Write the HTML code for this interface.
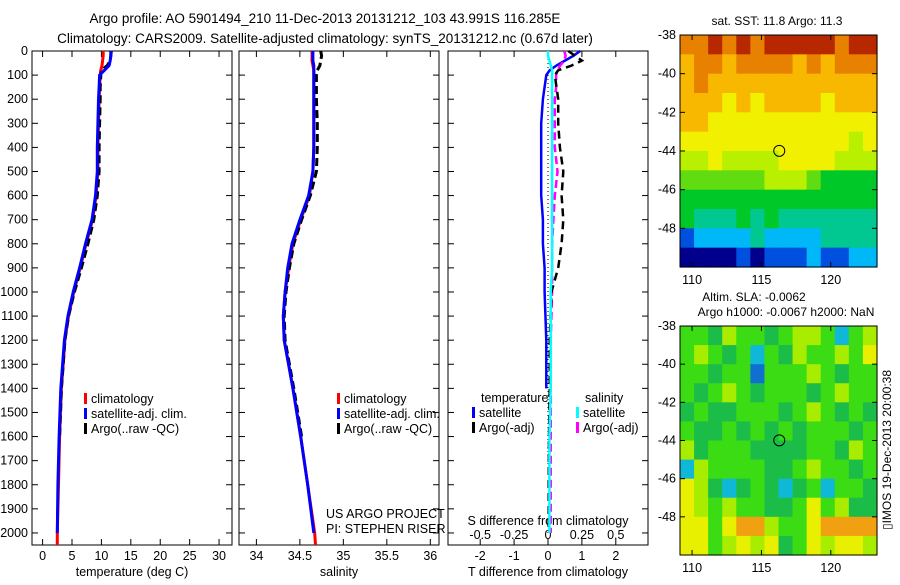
<!DOCTYPE html>
<html><head><meta charset="utf-8"><style>
body{margin:0;background:#fff;width:900px;height:580px;overflow:hidden}
svg{font-family:"Liberation Sans",sans-serif;font-size:12.5px}
</style></head><body>
<svg id="fig" width="900" height="580">
<text x="325" y="23" text-anchor="middle" font-size="13.5">Argo profile: AO 5901494_210 11-Dec-2013 20131212_103 43.991S 116.285E</text>
<text x="325" y="43" text-anchor="middle" font-size="13.5">Climatology: CARS2009. Satellite-adjusted climatology: synTS_20131212.nc (0.67d later)</text>
<text transform="translate(891,450) rotate(-90)" text-anchor="middle" font-size="12">▯IMOS 19-Dec-2013 20:00:38</text>
<g id="g"></g>
</svg>
<script>
// ---- profile data ----
const depthsT = [0,20,40,60,80,100,150,200,300,400,500,600,700,800,900,1000,1100,1200,1300,1400,1600,1800,2000,2050];
const tempClim = [10.3,10.3,10.2,10.1,9.9,9.8,9.7,9.6,9.5,9.4,9.4,9.1,8.5,7.4,6.4,5.3,4.4,3.8,3.5,3.2,2.9,2.7,2.5,2.5];
const tempSat  = [11.7,11.6,11.5,11.3,10.5,9.7,9.6,9.5,9.4,9.3,9.3,9.0,8.4,7.3,6.3,5.2,4.3,3.7,3.4,3.1,2.8,2.6,2.5,2.5];
const tempArgo = [11.6,11.6,11.5,11.0,10.0,9.9,9.8,9.8,9.7,9.6,9.6,9.3,8.7,7.7,6.6,5.4,4.4,3.8,3.5,3.2,2.9,2.7,2.5,2.5];
const salClim = [34.64,34.64,34.64,34.65,34.66,34.66,34.66,34.66,34.66,34.66,34.65,34.61,34.51,34.42,34.37,34.33,34.31,34.32,34.37,34.42,34.51,34.59,34.67,34.68];
const salSat  = [34.65,34.65,34.65,34.66,34.66,34.66,34.66,34.66,34.66,34.66,34.65,34.60,34.50,34.41,34.36,34.33,34.31,34.32,34.37,34.42,34.51,34.59,34.66,34.67];
const salArgo = [34.74,34.75,34.74,34.73,34.70,34.69,34.69,34.69,34.70,34.70,34.69,34.62,34.52,34.43,34.38,34.34,34.32,34.33,34.38,34.43,34.52,34.60,34.66,34.67];
const depthsD = [0,20,40,60,80,100,150,200,300,400,500,600,700,800,900,1000,1200,1400,1600,1800,2000];
const tDiffSat  = [0.95,0.75,0.5,0.25,0.05,-0.05,-0.1,-0.15,-0.2,-0.2,-0.2,-0.2,-0.15,-0.15,-0.1,-0.1,-0.05,-0.05,-0.02,0,0];
const tDiffArgo = [0.6,0.8,1.0,0.7,0.3,0.2,0.25,0.3,0.3,0.35,0.45,0.4,0.45,0.4,0.3,0.1,0.05,0.05,0.03,0.02,0.02];
const sDiffSat  = [0.0,0.0,0.01,0.02,0.03,0.03,0.03,0.03,0.03,0.03,0.03,0.03,0.03,0.03,0.03,0.02,0.02,0.02,0.01,0.01,0.01];
const sDiffArgo = [0.12,0.13,0.12,0.09,0.07,0.06,0.06,0.05,0.05,0.05,0.07,0.05,0.04,0.03,0.03,0.03,0.02,0.02,0.02,0.02,0.02];
const depthTicks = [0,100,200,300,400,500,600,700,800,900,1000,1100,1200,1300,1400,1500,1600,1700,1800,1900,2000];
const tempTicks = [0,5,10,15,20,25,30];
const salTicks = [34,34.5,35,35.5,36];
const tDiffTicks = [-2,-1,0,1,2];
const sDiffTicks = [-0.5,-0.25,0,0.25,0.5];
// ---- map data (colour class per cell, rows north->south, 1 deg lat) ----
const sstRows = ["99A9A9AAAAA9AA","89989999898999","89888888888888","88878788887888","88777777777777","77777777777767","66766667777666","55555566654444","44444444444444","43334343333333","12222322223333","00001011121122"];
const slaRows = ["ggdyggdgyygcgy","gygdgcgdyggygY","ggdggbgggygdgg","gdgygdgggdgygg","dgddgggdgygdgd","gddgdgdgdgggdg","ydgggddddggdyg","cyggggddgyggdg","Yydcdgdcdgcggd","YygyggddgYgydd","YYgYooyggYoooo","YYgyYyYdgYyYYy"];
const latTicks = [-38,-40,-42,-44,-46,-48];
const lonTicks = [110,115,120];
const argoLon = 116.285, argoLat = -43.991;

const NS='http://www.w3.org/2000/svg';
const G=document.getElementById('g');
function mk(tag,attrs,parent){const e=document.createElementNS(NS,tag);for(const k in attrs)e.setAttribute(k,attrs[k]);(parent||G).appendChild(e);return e;}
function txt(x,y,s,anchor,parent,size){const t=mk('text',{x:x,y:y,'text-anchor':anchor||'middle'},parent);if(size)t.setAttribute('font-size',size);t.textContent=s;return t;}

const top0=51, bot=545;
const yD=d=>top0+d*(bot-top0)/2050;

function panel(name,x0,x1,vmin,vmax,ticks,fmt,xlabel,leftLabels){
  const p=mk('g',{});
  
  
  const xs=v=>x0+(v-vmin)*(x1-x0)/(vmax-vmin);
  const r=mk('rect',{x:x0,y:top0,width:x1-x0,height:bot-top0,fill:'#fff',stroke:'#000','stroke-width':1},p);
  
  
  depthTicks.forEach(d=>{
    mk('line',{x1:x0,x2:x0+6,y1:yD(d),y2:yD(d),stroke:'#000'},p);
    mk('line',{x1:x1,x2:x1-6,y1:yD(d),y2:yD(d),stroke:'#000'},p);
    if(leftLabels){const t=txt(x0-4,yD(d)+4,String(d),'end',p);
      
      }
  });
  ticks.forEach(v=>{
    mk('line',{x1:xs(v),x2:xs(v),y1:bot,y2:bot-6,stroke:'#000'},p);
    mk('line',{x1:xs(v),x2:xs(v),y1:top0,y2:top0+6,stroke:'#000'},p);
    const t=txt(xs(v),560,fmt(v),'middle',p);
    
    
  });
  const xl=txt((x0+x1)/2,576,xlabel,'middle',p);
  
  
  return {p,xs};
}
function line(p,xs,vals,depths,color,w,dash,name){
  const pts=vals.map((v,i)=>xs(v).toFixed(1)+','+yD(depths[i]).toFixed(1)).join(' ');
  const l=mk('polyline',{points:pts,fill:'none',stroke:color,'stroke-width':w},p);
  if(dash)l.setAttribute('stroke-dasharray',dash);
  
  
}
function legend(p,x,y,items){
  items.forEach((it,i)=>{
    mk('rect',{x:x,y:y+i*15-10,width:3,height:11,fill:it[0]},p);
    const t=txt(x+7,y+i*15,it[1],'start',p);
    
    
  });
}
// Panel 1 temperature
let P=panel('temperature-panel',32,232,-1.8,32.2,tempTicks,v=>String(v),'temperature (deg C)',true);
line(P.p,P.xs,tempClim,depthsT,'#f00',3,null,'temp-climatology-line');
line(P.p,P.xs,tempArgo.slice(0,21),depthsT.slice(0,21),'#000',3,'8,4','temp-argo-line');
line(P.p,P.xs,tempSat.slice(0,23),depthsT.slice(0,23),'#00f',3,null,'temp-satellite-line');
legend(P.p,84,403,[['#f00','climatology'],['#00f','satellite-adj. clim.'],['#000','Argo(..raw -QC)']]);
// Panel 2 salinity
P=panel('salinity-panel',239,439,33.8,36.1,salTicks,v=>String(v),'salinity',false);
line(P.p,P.xs,salClim,depthsT,'#f00',3,null,'sal-climatology-line');
line(P.p,P.xs,salArgo.slice(0,21),depthsT.slice(0,21),'#000',3,'8,4','sal-argo-line');
line(P.p,P.xs,salSat.slice(0,23),depthsT.slice(0,23),'#00f',3,null,'sal-satellite-line');
legend(P.p,337,403,[['#f00','climatology'],['#00f','satellite-adj. clim.'],['#000','Argo(..raw -QC)']]);
let t=txt(326,518,'US ARGO PROJECT','start',P.p);


t=txt(326,533,'PI: STEPHEN RISER','start',P.p);


// Panel 3 differences
P=panel('difference-panel',448,648,-2.95,2.95,tDiffTicks,v=>String(v),'T difference from climatology',false);
const xs3=P.xs;
sDiffTicks.forEach(v=>{const tt=txt(xs3(v*4),539,String(v),'middle',P.p);
  
  });
t=txt(548,525,'S difference from climatology','middle',P.p);


mk('line',{x1:xs3(0),x2:xs3(0),y1:top0+4,y2:yD(1750),stroke:'#000','stroke-dasharray':'1,3'},P.p);
const dS=depthsD.slice(0,18);
line(P.p,xs3,tDiffSat.slice(0,18),dS,'#00f',2.5,null,'t-diff-satellite-line');
line(P.p,xs3,sDiffArgo.map(v=>v*4),depthsD,'#f0f',2.5,'8,4','s-diff-argo-line');
line(P.p,xs3,tDiffArgo,depthsD,'#000',2.5,'8,5','t-diff-argo-line');
line(P.p,xs3,sDiffSat.map(v=>v*4),depthsD,'#0ff',2.5,null,'s-diff-satellite-line');
t=txt(481,402,'temperature','start',P.p);
t=txt(585,402,'salinity','start',P.p);
legend(P.p,472,417,[['#00f','satellite'],['#000','Argo(-adj)']]);
legend(P.p,576,417,[['#0ff','satellite'],['#f0f','Argo(-adj)']]);

// ---- maps ----
const sstPal={'0':'#00008c','1':'#0050e0','2':'#00b8f8','3':'#00c890','4':'#00c828','5':'#60dc10','6':'#b8f000','7':'#f0f000','8':'#f8b800','9':'#e88000','A':'#b82800'};
const slaPal={g:'#3cdc14',d:'#1cbc48',y:'#a8ec00',Y:'#e8f000',o:'#f0a010',c:'#10b8d8',b:'#1070d0'};
function map(name,y0,y1,rows,pal,titles){
  const x0=680,x1=877,lonMin=109.13,lonMax=123.33;
  const m=mk('g',{});
  
  
  const xl=v=>x0+(v-lonMin)*(x1-x0)/(lonMax-lonMin);
  const yl=v=>y0+(-38-v)*(y1-y0)/12;
  const nc=rows[0].length, cw=(x1-x0)/nc, ch=(y1-y0)/rows.length;
  rows.forEach((row,r)=>{[...row].forEach((c,k)=>{
    const cell=mk('rect',{x:(x0+k*cw).toFixed(2),y:(y0+r*ch).toFixed(2),width:(cw+0.6).toFixed(2),height:(ch+0.6).toFixed(2),fill:pal[c]},m);
    
    
  });});
  mk('rect',{x:x0,y:y0,width:x1-x0,height:y1-y0,fill:'none',stroke:'#000'},m);
  latTicks.forEach(v=>{
    mk('line',{x1:x0,x2:x0+5,y1:yl(v),y2:yl(v),stroke:'#000'},m);
    mk('line',{x1:x1,x2:x1-5,y1:yl(v),y2:yl(v),stroke:'#000'},m);
    const tt=txt(x0-4,yl(v)+4,String(v),'end',m);
    
    
  });
  lonTicks.forEach(v=>{
    mk('line',{x1:xl(v),x2:xl(v),y1:y1,y2:y1-5,stroke:'#000'},m);
    mk('line',{x1:xl(v),x2:xl(v),y1:y0,y2:y0+5,stroke:'#000'},m);
    const tt=txt(xl(v),y1+17,String(v),'middle',m);
    
    
  });
  const c=mk('circle',{cx:xl(argoLon),cy:yl(argoLat),r:5.5,fill:'none',stroke:'#000'},m);
  
  
  titles.forEach((s,i)=>{const tt=txt(s[1],s[2],s[0],'middle',m,12);
    
    });
}
map('sst-map',35,267,sstRows,sstPal,[['sat. SST: 11.8  Argo: 11.3',777,25]]);
map('sla-map',326,555,slaRows,slaPal,[['Altim. SLA: -0.0062',754,301],['Argo h1000: -0.0067 h2000: NaN',786,316]]);
</script>
</body></html>
